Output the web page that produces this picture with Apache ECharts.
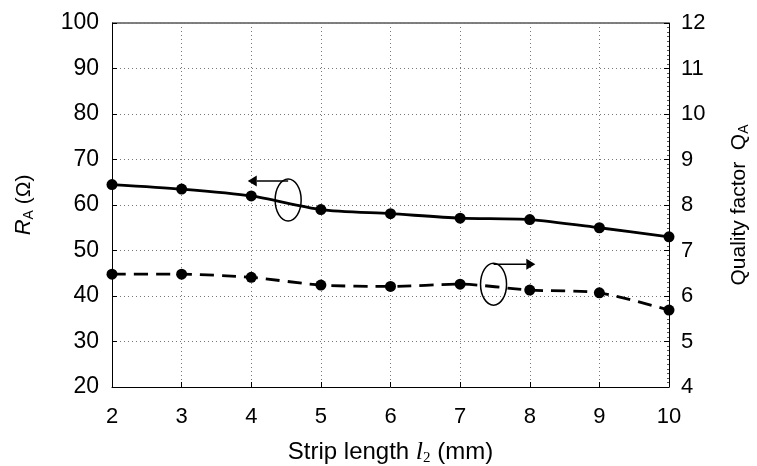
<!DOCTYPE html>
<html><head><meta charset="utf-8">
<script src="https://cdn.jsdelivr.net/npm/echarts@6/dist/echarts.min.js"></script>
<style>html,body{margin:0;padding:0;background:#fff}#c{width:757px;height:466px}</style>
</head><body><div id="c"></div>
<script>
const stripLength = [2, 3, 4, 5, 6, 7, 8, 9, 10];
const resistanceRA = [64.5, 63.5, 62.0, 59.0, 58.1, 57.1, 56.8, 55.0, 53.0];
const qualityQA = [6.48, 6.48, 6.41, 6.24, 6.21, 6.26, 6.13, 6.07, 5.69];
const leftTicks = [20, 100, 10];
const rightTicks = [4, 12, 1];
// annotation anchors in data space: [ellipse x, ellipse R, arrow y R, arrow tip x]
const annoLeft = [4.53, 61.1, 65.3, 3.95];
const annoRight = [7.48, 42.6, 47.0, 8.08];

const font = '"Liberation Sans", Arial, sans-serif';
const chart = echarts.init(document.getElementById('c'));
const pair = (xs, ys) => xs.map((x, i) => [x, ys[i]]);
const labelStyle = {color: '#000', fontSize: 22, fontFamily: font};
chart.setOption({
  animation: false,
  grid: {left: 112, right: 88, top: 23, bottom: 79, containLabel: false, outerBoundsMode: 'none'},
  xAxis: {
    type: 'value', min: 2, max: 10, interval: 1,
    name: '{n|Strip length }{i|l}{s|2}{n| (mm)}',
    nameLocation: 'middle', nameGap: 52,
    nameTextStyle: {rich: {
      n: {fontSize: 24, fontFamily: font, color: '#000'},
      i: {fontSize: 26, fontFamily: '"Liberation Serif", serif', fontStyle: 'italic', color: '#000'},
      s: {fontSize: 15, fontFamily: '"Liberation Serif", serif', color: '#000', padding: [12, 0, 0, 0]}
    }},
    axisLine: {lineStyle: {color: '#000', width: 1}},
    axisTick: {inside: true, length: 5, lineStyle: {color: '#000'}},
    axisLabel: Object.assign({margin: 19}, labelStyle),
    splitLine: {show: true, lineStyle: {type: [1, 3], color: '#777', width: 1}}
  },
  yAxis: [{
    type: 'value', min: leftTicks[0], max: leftTicks[1], interval: leftTicks[2],
    position: 'left',
    name: '{i|R}{s|A}{n| (Ω)}', nameLocation: 'middle', nameGap: 76, nameRotate: 90,
    nameTextStyle: {rich: {
      n: {fontSize: 21, fontFamily: font, color: '#000'},
      i: {fontSize: 22, fontFamily: font, fontStyle: 'italic', color: '#000'},
      s: {fontSize: 14, fontFamily: font, color: '#000', padding: [10, 0, 0, 0]}
    }},
    axisLine: {show: true, lineStyle: {color: '#000', width: 1}},
    axisTick: {show: true, inside: true, length: 5, lineStyle: {color: '#000'}},
    axisLabel: Object.assign({margin: 13}, labelStyle, {fontSize: 23}),
    splitLine: {show: true, lineStyle: {type: [1, 3], color: '#777', width: 1}}
  }, {
    type: 'value', min: rightTicks[0], max: rightTicks[1], interval: rightTicks[2],
    position: 'right',
    name: '{n|Quality factor  Q}{s|A}', nameLocation: 'middle', nameGap: 58, nameRotate: 90,
    nameTextStyle: {rich: {
      n: {fontSize: 21, fontFamily: font, color: '#000'},
      s: {fontSize: 14, fontFamily: font, color: '#000', padding: [10, 0, 0, 0]}
    }},
    axisLine: {show: true, lineStyle: {color: '#000', width: 1}},
    axisTick: {show: true, inside: true, length: 5, lineStyle: {color: '#000'}},
    minorTick: {show: true, splitNumber: 10, length: 2, lineStyle: {color: '#555'}},
    axisLabel: Object.assign({margin: 12}, labelStyle),
    splitLine: {show: false}
  }],
  graphic: [],
  series: [{
    type: 'line', yAxisIndex: 0, data: pair(stripLength, resistanceRA),
    smooth: 0.25, symbol: 'circle', symbolSize: 11,
    itemStyle: {color: '#000'}, lineStyle: {color: '#000', width: 2.8}, z: 5
  }, {
    type: 'line', yAxisIndex: 1, data: pair(stripLength, qualityQA),
    smooth: 0.25, symbol: 'circle', symbolSize: 11,
    itemStyle: {color: '#000'}, lineStyle: {color: '#000', width: 2.8, type: [14, 8]}, z: 5
  }]
});

function anno(a, dir) {
  const c = chart.convertToPixel({xAxisIndex: 0, yAxisIndex: 0}, [a[0], a[1]]);
  const t = chart.convertToPixel({xAxisIndex: 0, yAxisIndex: 0}, [a[3], a[2]]);
  const rx = 13, ry = 21;
  const y = t[1];
  const startX = c[0];
  const headLen = 9;
  const baseX = dir < 0 ? t[0] + headLen : t[0] - headLen;
  return [
    {type: 'ellipse', shape: {cx: c[0], cy: c[1], rx: rx, ry: ry}, style: {fill: null, stroke: '#000', lineWidth: 1.5}, z: 10},
    {type: 'line', shape: {x1: startX, y1: y, x2: baseX, y2: y}, style: {stroke: '#000', lineWidth: 1.5}, z: 10},
    {type: 'polygon', shape: {points: [[t[0], y], [baseX, y - 5.5], [baseX, y + 5.5]]}, style: {fill: '#000'}, z: 10}
  ];
}
const frameL = chart.convertToPixel({xAxisIndex: 0, yAxisIndex: 0}, [2, leftTicks[1]]);
const frameR = chart.convertToPixel({xAxisIndex: 0, yAxisIndex: 0}, [10, leftTicks[1]]);
chart.setOption({graphic: [
  ...anno(annoLeft, -1), ...anno(annoRight, 1),
  {type: 'line', shape: {x1: frameL[0], y1: frameL[1], x2: frameR[0], y2: frameR[1]}, style: {stroke: '#000', lineWidth: 1}}
]});
</script></body></html>
